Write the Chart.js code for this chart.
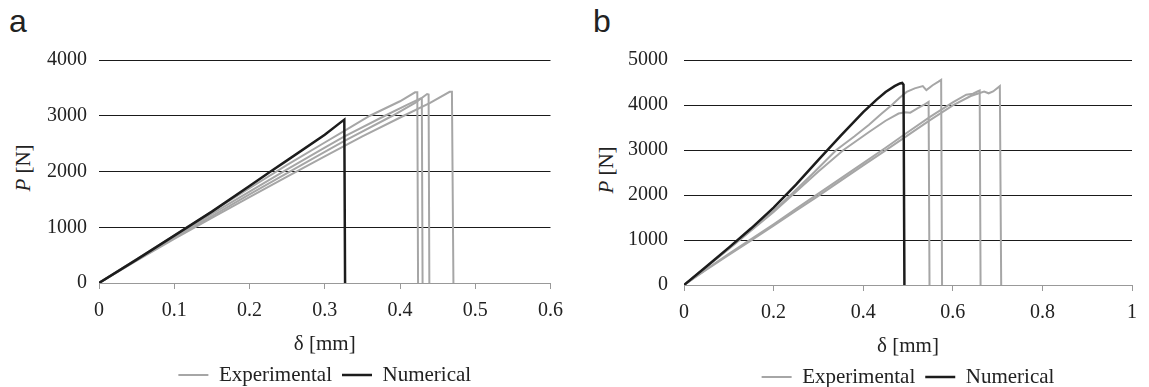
<!DOCTYPE html>
<html>
<head>
<meta charset="utf-8">
<script src="https://cdn.jsdelivr.net/npm/chart.js@4.4.0/dist/chart.umd.min.js"></script>
<style>
  body { margin: 0; width: 1149px; height: 387px; overflow: hidden; background: #fff; position: relative; font-family: "Liberation Serif", "Times New Roman", serif; }
  canvas { position: absolute; top: 0; }
  .letter { position: absolute; font-family: "Liberation Sans", Arial, sans-serif; font-size: 32px; line-height: 1; color: #222; }
  .ytitle { position: absolute; font-size: 21px; line-height: 1; color: #222; white-space: nowrap; transform: translate(-50%, -50%) rotate(-90deg); }
</style>
</head>
<body>
<div class="letter" style="left:9px;top:5px">a</div>
<div class="letter" style="left:593px;top:5px">b</div>
<div class="ytitle" style="left:23px;top:168px"><i>P</i> [N]</div>
<div class="ytitle" style="left:606px;top:170px"><i>P</i> [N]</div>
<canvas id="chartA" width="575" height="400" style="left:0"></canvas>
<canvas id="chartB" width="574" height="400" style="left:575px"></canvas>
<script>
// panel a: delta [mm] / P [N]
const aExp1D = [0, 0.05, 0.1, 0.15, 0.2, 0.25, 0.3, 0.325, 0.36, 0.4, 0.42, 0.423, 0.424];
const aExp1P = [0, 430, 850, 1280, 1700, 2120, 2520, 2720, 3000, 3260, 3420, 3420, 0];
const aExp2D = [0, 0.05, 0.1, 0.15, 0.2, 0.25, 0.3, 0.325, 0.38, 0.41, 0.427, 0.429, 0.430];
const aExp2P = [0, 420, 830, 1240, 1640, 2040, 2430, 2620, 3000, 3200, 3310, 3300, 0];
const aExp3D = [0, 0.05, 0.1, 0.15, 0.2, 0.25, 0.3, 0.325, 0.39, 0.42, 0.436, 0.438, 0.439];
const aExp3P = [0, 410, 810, 1200, 1590, 1970, 2350, 2540, 3000, 3230, 3390, 3380, 0];
const aExp4D = [0, 0.05, 0.1, 0.15, 0.2, 0.25, 0.3, 0.325, 0.35, 0.405, 0.44, 0.466, 0.469, 0.471];
const aExp4P = [0, 400, 790, 1170, 1540, 1910, 2270, 2450, 2630, 3000, 3230, 3430, 3430, 0];
const aNumD = [0, 0.05, 0.1, 0.15, 0.2, 0.228, 0.25, 0.3, 0.322, 0.326, 0.327];
const aNumP = [0, 420, 850, 1280, 1740, 2000, 2200, 2660, 2890, 2930, 0];

// panel b
const bExp1D = [0, 0.05, 0.1, 0.15, 0.2, 0.238, 0.29, 0.34, 0.38, 0.413, 0.44, 0.464, 0.48, 0.497, 0.515, 0.533, 0.541, 0.555, 0.568, 0.574, 0.576];
const bExp1P = [0, 400, 810, 1230, 1650, 2000, 2500, 3000, 3300, 3560, 3800, 4000, 4150, 4290, 4370, 4420, 4330, 4440, 4520, 4560, 0];
const bExp2D = [0, 0.05, 0.1, 0.15, 0.2, 0.242, 0.3, 0.356, 0.413, 0.45, 0.479, 0.493, 0.505, 0.52, 0.535, 0.546, 0.548];
const bExp2P = [0, 400, 800, 1210, 1620, 2000, 2520, 3000, 3400, 3650, 3810, 3840, 3830, 3920, 4000, 4070, 0];
const bExp3D = [0, 0.05, 0.1, 0.15, 0.2, 0.25, 0.3, 0.35, 0.4, 0.45, 0.5, 0.55, 0.6, 0.63, 0.645, 0.655, 0.66, 0.662];
const bExp3P = [0, 350, 690, 1020, 1350, 1690, 2030, 2370, 2710, 3050, 3400, 3740, 4060, 4230, 4250, 4300, 4320, 0];
const bExp4D = [0, 0.05, 0.1, 0.15, 0.2, 0.25, 0.3, 0.35, 0.4, 0.45, 0.5, 0.55, 0.6, 0.64, 0.67, 0.68, 0.69, 0.705, 0.708];
const bExp4P = [0, 340, 670, 990, 1320, 1650, 1980, 2320, 2660, 2990, 3330, 3670, 3990, 4200, 4300, 4260, 4300, 4420, 0];
const bNumD = [0, 0.05, 0.1, 0.15, 0.2, 0.25, 0.3, 0.35, 0.4, 0.43, 0.45, 0.47, 0.482, 0.487, 0.49, 0.492];
const bNumP = [0, 410, 830, 1260, 1720, 2230, 2780, 3320, 3840, 4120, 4290, 4420, 4480, 4490, 4450, 0];

const aTicksX = [0, 0.6, 0.1];
const bTicksX = [0, 1, 0.2];

const GRAY = '#a6a6a6';
const BLACK = '#1c1c1c';
const TEXT = '#222';
const SERIF = '"Liberation Serif", "Times New Roman", serif';

const pts = (d, p) => d.map((x, i) => ({ x: x, y: p[i] }));

function expSet(d, p) {
  return { label: 'Experimental', data: pts(d, p), borderColor: GRAY, backgroundColor: GRAY, borderWidth: 2, order: 1 };
}
function numSet(d, p) {
  return { label: 'Numerical', data: pts(d, p), borderColor: BLACK, backgroundColor: BLACK, borderWidth: 2.5, order: 0 };
}

function makeChart(id, datasets, xTicks, yMax, pad, yWidth, yPad) {
  return new Chart(document.getElementById(id), {
    type: 'line',
    data: { datasets: datasets },
    options: {
      responsive: false,
      animation: false,
      events: [],
      elements: { point: { radius: 0 }, line: { tension: 0 } },
      layout: { padding: pad },
      plugins: {
        tooltip: { enabled: false },
        legend: {
          position: 'bottom',
          fullSize: false,
          labels: {
            usePointStyle: true,
            pointStyle: 'line',
            pointStyleWidth: 30,
            padding: 10,
            color: TEXT,
            font: { family: SERIF, size: 21 },
            filter: (item, data) => data.datasets.findIndex(ds => ds.label === item.text) === item.datasetIndex,
            sort: (a, b) => a.datasetIndex - b.datasetIndex
          }
        }
      },
      scales: {
        x: {
          type: 'linear',
          min: xTicks[0],
          max: xTicks[1],
          ticks: {
            stepSize: xTicks[2],
            color: TEXT,
            padding: 12,
            font: { family: SERIF, size: 20, lineHeight: 1 },
            callback: v => String(+v.toFixed(2))
          },
          grid: { drawOnChartArea: false, drawTicks: true, tickLength: 6, color: '#999' },
          border: { display: true, color: '#999', width: 1 },
          title: {
            display: true,
            text: 'δ [mm]',
            color: TEXT,
            font: { family: SERIF, size: 21, lineHeight: 1 },
            padding: { top: 0.5, bottom: 0 }
          }
        },
        y: {
          min: 0,
          max: yMax,
          ticks: {
            stepSize: 1000,
            color: TEXT,
            padding: yPad,
            font: { family: SERIF, size: 20, lineHeight: 1 },
            callback: v => String(v)
          },
          grid: {
            drawTicks: false,
            color: c => (c.tick && c.tick.value === 0) ? 'rgba(0,0,0,0)' : '#1a1a1a'
          },
          border: { display: false },
          afterFit: s => { s.width = yWidth; }
        }
      }
    }
  });
}

makeChart('chartA', [
  expSet(aExp1D, aExp1P),
  expSet(aExp2D, aExp2P),
  expSet(aExp3D, aExp3P),
  expSet(aExp4D, aExp4P),
  numSet(aNumD, aNumP)
], aTicksX, 4000, { left: 39, right: 14, top: 60, bottom: 4.5 }, 60, 12);

makeChart('chartB', [
  expSet(bExp1D, bExp1P),
  expSet(bExp2D, bExp2P),
  expSet(bExp3D, bExp3P),
  expSet(bExp4D, bExp4P),
  numSet(bNumD, bNumP)
], bTicksX, 5000, { left: 49, right: 7, top: 60, bottom: 2.5 }, 60, 16);
</script>
</body>
</html>
